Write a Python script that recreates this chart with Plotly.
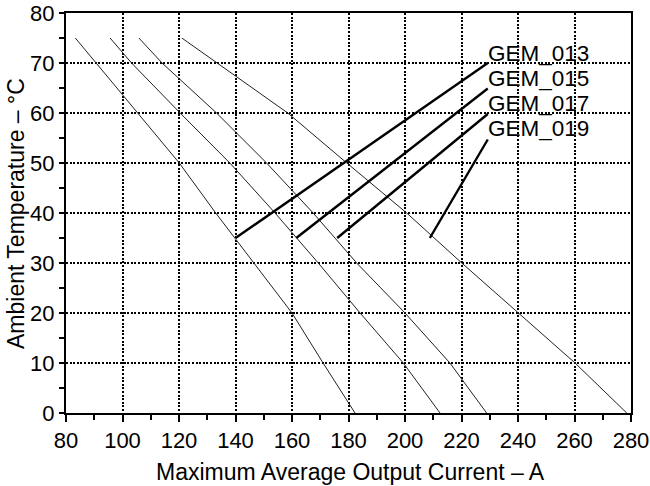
import plotly.graph_objects as go

# Derating curves: ambient temperature (°C) vs maximum average output current (A)
temps = [75, 70, 60, 50, 40, 30, 20, 10, 0]
gem_013 = [83.3, 90.6, 105.4, 120.1, 133.0, 146.5, 160.0, 171.0, 182.3]
gem_015 = [95.6, 103.2, 120.4, 138.0, 154.0, 169.3, 184.1, 199.4, 212.4]
gem_017 = [105.8, 114.0, 133.3, 151.0, 167.5, 182.9, 200.0, 215.9, 228.9]
gem_019 = [121.0, 133.5, 158.5, 179.4, 200.6, 220.1, 240.1, 260.2, 278.5]

series_names = ["GEM_013", "GEM_015", "GEM_017", "GEM_019"]
series_x = [gem_013, gem_015, gem_017, gem_019]

# Leader lines: from a point on each curve to its label
leader_curve_x = [140.0, 161.5, 176.0, 208.8]
leader_curve_y = [35, 35, 35, 35]
leader_label_x = [229.3, 229.3, 229.3, 229.3]
leader_label_y = [70.0, 64.9, 59.8, 54.7]
label_text_y = [72.0, 67.0, 62.0, 57.0]

x_ticks = [80, 100, 120, 140, 160, 180, 200, 220, 240, 260, 280]
y_ticks = [0, 10, 20, 30, 40, 50, 60, 70, 80]

FONT = "Liberation Sans, Arial, Helvetica, sans-serif"

fig = go.Figure()

for name, xs in zip(series_names, series_x):
    fig.add_trace(go.Scatter(x=xs, y=temps, mode="lines", name=name,
                             line=dict(color="#222222", width=1),
                             showlegend=False, hoverinfo="skip"))

for i, name in enumerate(series_names):
    fig.add_trace(go.Scatter(x=[leader_curve_x[i], leader_label_x[i]],
                             y=[leader_curve_y[i], leader_label_y[i]],
                             mode="lines", line=dict(color="black", width=2.4),
                             showlegend=False, hoverinfo="skip"))
    fig.add_annotation(x=leader_label_x[i], y=label_text_y[i], text=name,
                       showarrow=False, xanchor="left", yanchor="middle",
                       xshift=-2,
                       font=dict(family=FONT, size=22.5, color="black"))

axis_common = dict(
    showline=True, linecolor="black", linewidth=2, mirror=True,
    showgrid=True, gridcolor="black", gridwidth=2, griddash="2px,1.6px",
    zeroline=False, ticks="outside", tickcolor="black", tickwidth=2,
    automargin=False,
    tickfont=dict(family=FONT, size=22, color="black"),
)

fig.update_xaxes(range=[80, 280], tickvals=x_ticks, ticklen=7,
                 minor=dict(dtick=10, tick0=80, ticks="outside", ticklen=5,
                            tickcolor="black", tickwidth=1.5, showgrid=False),
                 **axis_common)
fig.update_yaxes(range=[0, 80], tickvals=y_ticks, ticklen=5,
                 minor=dict(dtick=5, tick0=0, ticks="outside", ticklen=5,
                            tickcolor="black", tickwidth=1.5, showgrid=False),
                 **axis_common)

fig.add_annotation(xref="paper", yref="paper", x=0.503, y=-0.147,
                   text="Maximum Average Output Current – A", showarrow=False,
                   xanchor="center", yanchor="middle",
                   font=dict(family=FONT, size=23, color="black"))
fig.add_annotation(xref="paper", yref="paper", x=-0.0885, y=0.5,
                   text="Ambient Temperature – °C", showarrow=False,
                   textangle=-90, xanchor="center", yanchor="middle",
                   font=dict(family=FONT, size=23, color="black"))

fig.update_layout(width=650, height=486,
                  margin=dict(l=66, r=19, t=13, b=73, autoexpand=False),
                  paper_bgcolor="white", plot_bgcolor="white",
                  showlegend=False)

fig.write_html("out.html")
